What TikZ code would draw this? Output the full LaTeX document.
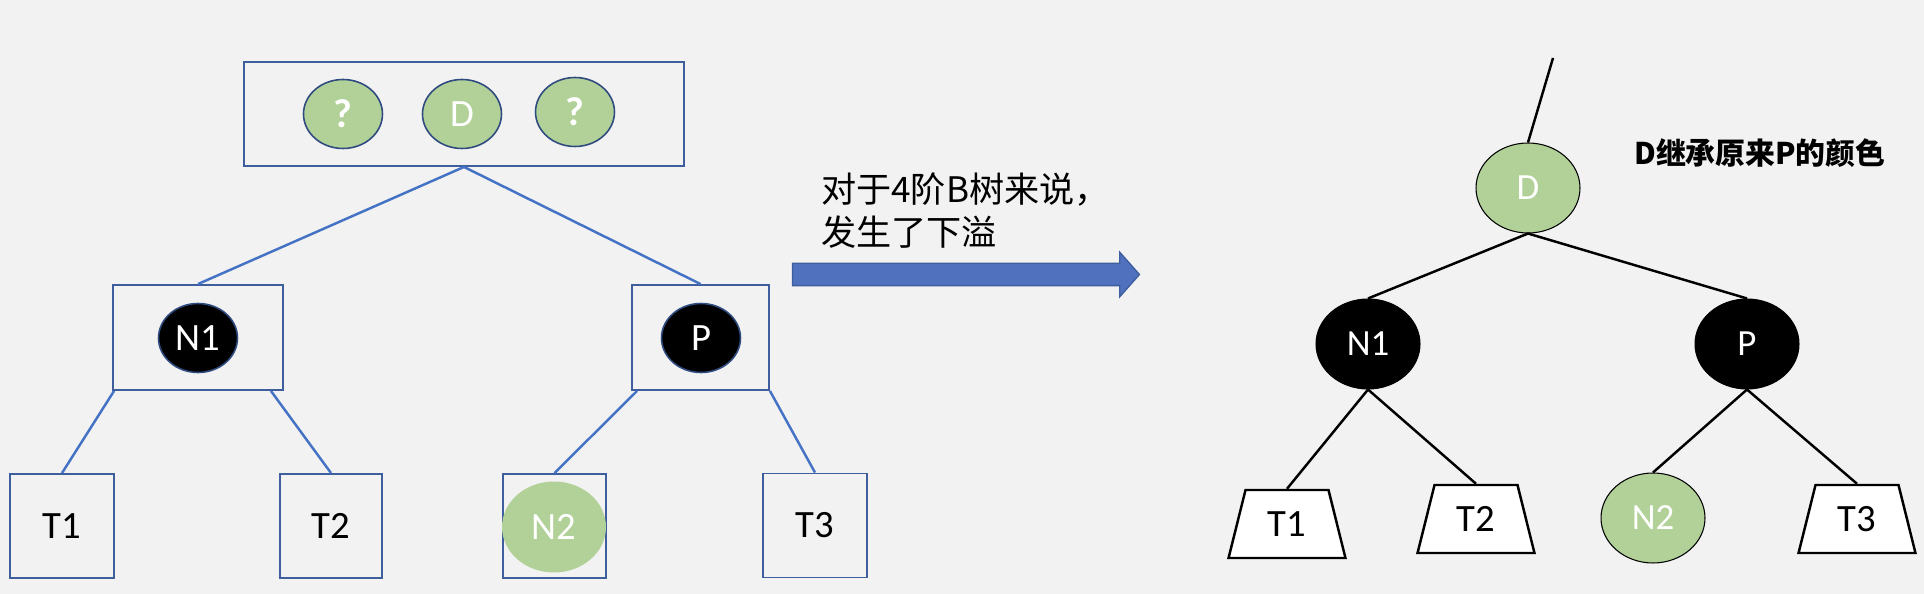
\documentclass[tikz,border=0pt]{standalone}
\usepackage{fontspec}
\setmainfont{Carlito}
\newfontfamily\cjk{Noto Sans CJK SC}
\usetikzlibrary{shapes.geometric,shapes.arrows}

\definecolor{bgcol}{HTML}{F2F2F2}
\definecolor{linecol}{HTML}{4472C4}
\definecolor{boxcol}{HTML}{3F5E9E}
\definecolor{rimcol}{HTML}{2F4B80}
\definecolor{keycol}{HTML}{B2D198}
\definecolor{arrowcol}{HTML}{4F71BE}

\begin{document}
\begin{tikzpicture}[x=0.02cm,y=-0.02cm]
% Styles
\tikzset{
    bbox/.style={draw=boxcol, line width=1.1pt, minimum width=#1, minimum height=2.08cm,
        font=\fontsize{22}{22}\selectfont},
    bkey/.style={ellipse, draw=rimcol, line width=0.9pt, minimum width=1.58cm, minimum height=1.38cm,
        inner sep=0pt, font=\fontsize{22}{22}\selectfont, text=white},
    rbnode/.style={ellipse, draw=black, line width=0.6pt, minimum width=2.08cm, minimum height=1.8cm,
        inner sep=0pt, font=\fontsize{21}{21}\selectfont, text=white},
    subtree/.style={trapezium, trapezium angle=76, draw=black, fill=white, line width=1.4pt,
        text width=0.8cm, align=center, text height=0.5cm, text depth=0cm,
        inner xsep=0.43cm, inner ysep=0.43cm, font=\fontsize{22}{22}\selectfont},
    bline/.style={draw=linecol, line width=1.4pt},
    rline/.style={draw=black, line width=1.4pt}
}
\fill[bgcol] (0,0) rectangle (1924,594);

% B-tree nodes
\node[bbox=8.8cm] (Top) at (464,114){};
\node[bkey, fill=keycol, font=\fontsize{23}{23}\selectfont\bfseries] (Qa) at (343,114){?};
\node[bkey, fill=keycol] (Da) at (462,114){D};
\node[bkey, fill=keycol, font=\fontsize{23}{23}\selectfont\bfseries] (Qb) at (575,112){?};

\node[bbox=3.4cm, minimum height=2.1cm] (Boxa) at (198,337.5){};
\node[bkey, fill=black] (Na) at (198,338){N1};
\node[bbox=2.74cm, minimum height=2.1cm] (Boxb) at (700.5,337.5){};
\node[bkey, fill=black] (Pa) at (701,338){P};

\node[bbox=2.08cm] (Ta) at (62,526){T1};
\node[bbox=2.04cm] (Tb) at (331,526){T2};
\node[bbox=2.06cm] (Boxc) at (554.5,526){};
\node[ellipse, fill=keycol, minimum width=2.08cm, minimum height=1.82cm, inner sep=0pt,
    font=\fontsize{22}{22}\selectfont, text=white] (Nb) at (554,527){N2};
\node[bbox=2.08cm] (Tc) at (815,525.5){T3};

% Connection
\draw[bline] (Top.south) -- (Boxa.north);
\draw[bline] (Top.south) -- (Boxb.north);
\draw[bline] ([xshift=0.04cm]Boxa.south west) -- (Ta.north);
\draw[bline] ([xshift=-0.26cm]Boxa.south east) -- (Tb.north);
\draw[bline] ([xshift=0.12cm]Boxb.south west) -- (Boxc.north);
\draw[bline] (Boxb.south east) -- (Tc.north);

% Transition
\node[anchor=west, align=left, font=\cjk\fontsize{20}{24.5}\selectfont] (Note) at (815,211)
    {对于4阶B树来说，\\发生了下溢};
\node[single arrow, fill=arrowcol, draw=boxcol, line width=0.8pt, inner xsep=0pt, inner ysep=0.21cm,
    minimum height=6.94cm, single arrow head extend=0.22cm, single arrow tip angle=97,
    single arrow head indent=0pt] (Arrow) at (961,274.5){};

% Red-black tree
\coordinate (Up) at (1553,58);
\node[rbnode, fill=keycol] (Db) at (1528,188){D};
\node[rbnode, fill=black] (Nc) at (1368,344){N1};
\node[rbnode, fill=black] (Pb) at (1747,344){P};
\node[rbnode, fill=keycol] (Nd) at (1653,518){N2};
\node[subtree] (Td) at (1287,524){T1};
\node[subtree] (Te) at (1476,519){T2};
\node[subtree] (Tf) at (1857,519){T3};
\node[anchor=west, font=\cjk\fontsize{17}{17}\selectfont\bfseries] (Keep) at (1628,153)
    {D继承原来P的颜色};

\draw[rline] (Up) -- (Db.north);
\draw[rline] (Db.south) -- (Nc.north);
\draw[rline] (Db.south) -- (Pb.north);
\draw[rline] (Nc.south) -- (Td.north);
\draw[rline] (Nc.south) -- (Te.north);
\draw[rline] (Pb.south) -- (Nd.north);
\draw[rline] (Pb.south) -- (Tf.north);
\end{tikzpicture}
\end{document}
